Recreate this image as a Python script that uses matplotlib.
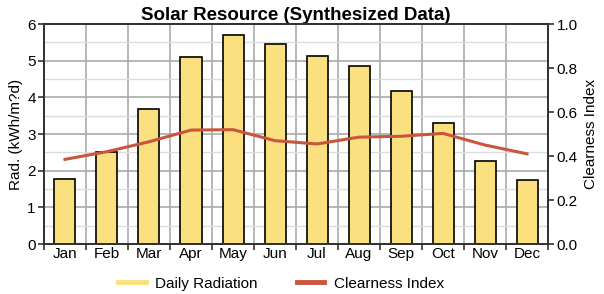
import matplotlib
matplotlib.use("Agg")
from matplotlib import pyplot as plt
import numpy as np

plt.rcParams['font.family'] = ['Liberation Sans', 'DejaVu Sans']

months = ["Jan", "Feb", "Mar", "Apr", "May", "Jun", "Jul", "Aug", "Sep", "Oct", "Nov", "Dec"]
radiation = [1.77, 2.52, 3.68, 5.09, 5.70, 5.46, 5.14, 4.87, 4.18, 3.29, 2.27, 1.76]
clearness = [0.385, 0.42, 0.465, 0.518, 0.52, 0.47, 0.455, 0.486, 0.49, 0.503, 0.45, 0.41]

bar_color = '#FBE07F'
line_color = '#C9553D'

fig = plt.figure(figsize=(6.04, 2.94), dpi=100)
ax = fig.add_axes([0.0728, 0.170, 0.8346, 0.748])
x = np.arange(len(months))

ax.set_axisbelow(True)
ax.bar(x, radiation, width=0.5, color=bar_color, edgecolor='black', linewidth=1.2, zorder=2)
ax.set_xlim(-0.5, 11.5)
ax.set_ylim(0, 6)
ax.set_yticks(range(7))
ax.set_yticks(np.arange(0.5, 6, 1), minor=True)
ax.set_xticks(np.arange(-0.5, 12, 1))
ax.set_xticklabels([])
ax.set_xticks(x, minor=True)
ax.set_xticklabels(months, minor=True)
ax.tick_params(axis='x', which='minor', length=0, labelsize=11, pad=2)
ax.tick_params(axis='x', which='major', length=4, width=1.2, color='#333333')
ax.tick_params(axis='y', which='major', length=4, width=1.2, color='#333333', labelsize=11, pad=2)
ax.tick_params(axis='y', which='minor', length=0)
ax.grid(axis='y', which='major', color='#aaaaaa', linewidth=1.2)
ax.grid(axis='y', which='minor', color='#dddddd', linewidth=1.0)
ax.grid(axis='x', which='major', color='#aaaaaa', linewidth=1.2)
for s in ax.spines.values():
    s.set_color('#333333')
    s.set_linewidth(1.4)
ax.set_ylabel("Rad. (kWh/m?d)", fontsize=11, labelpad=3)
ax.set_title("Solar Resource (Synthesized Data)", fontsize=13.5, fontweight='bold', pad=3)

ax2 = ax.twinx()
ax2.plot(x, clearness, color=line_color, linewidth=2.2, zorder=3)
ax2.set_ylim(0, 1)
ax2.set_yticks(np.arange(0, 1.01, 0.2))
ax2.set_yticklabels([f"{v:.1f}" for v in np.arange(0, 1.01, 0.2)])
ax2.tick_params(axis='y', length=4, width=1.2, color='#333333', labelsize=11, pad=2)
ax2.set_ylabel("Clearness Index", fontsize=11, labelpad=5)
for s in ax2.spines.values():
    s.set_color('#333333')
    s.set_linewidth(1.4)

handles = [plt.Line2D([], [], color=bar_color, linewidth=3.5),
           plt.Line2D([], [], color=line_color, linewidth=3.5)]
fig.legend(handles, ["Daily Radiation", "Clearness Index"], loc='center',
           bbox_to_anchor=(0.465, 0.035), ncol=2, frameon=False, fontsize=11,
           handlelength=1.8, handletextpad=0.6, columnspacing=2.6)

plt.savefig('out.png', dpi=100)
